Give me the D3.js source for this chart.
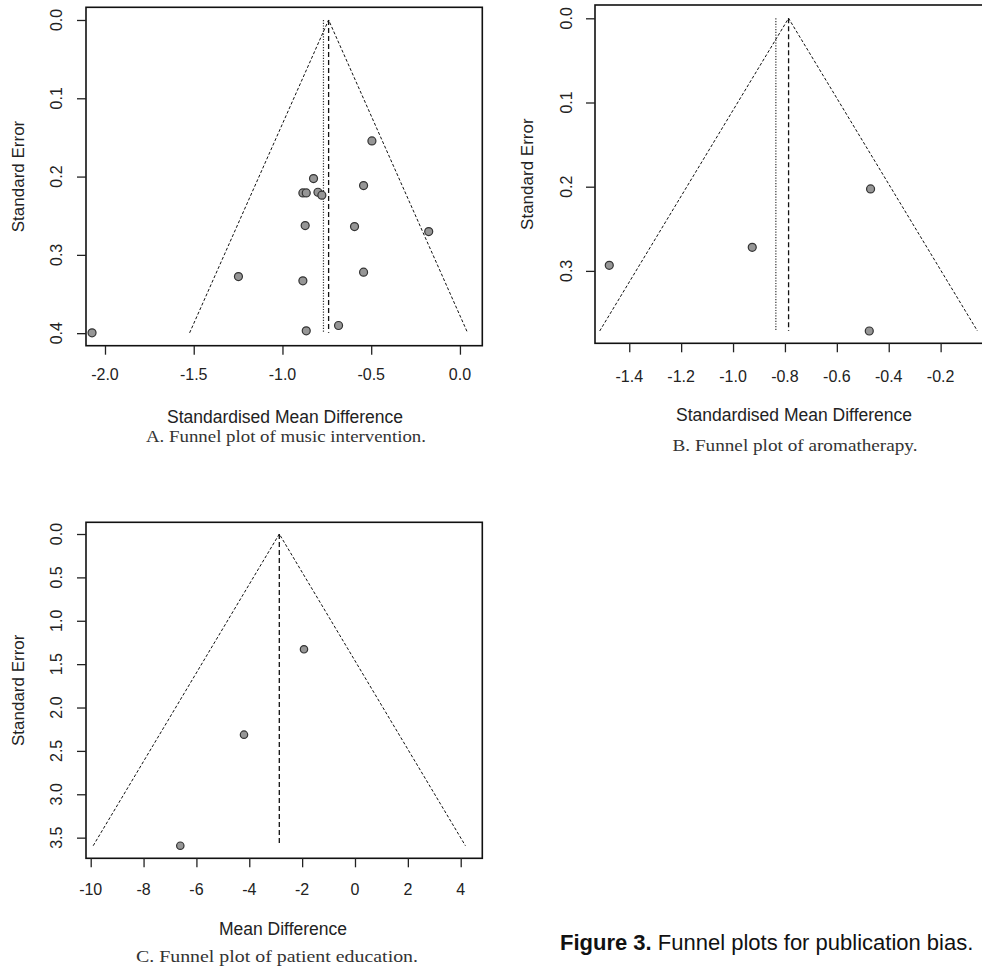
<!DOCTYPE html>
<html>
<head>
<meta charset="utf-8">
<script src="https://cdn.jsdelivr.net/npm/d3@7"></script>
<style>
  body { margin: 0; background: #fff; }
  svg { display: block; font-family: "Liberation Sans", Arial, sans-serif; }
</style>
</head>
<body>
<svg id="fig" width="982" height="969"></svg>
<script>
// A. music intervention (SMD vs standard error)
var smdA = [-0.496, -0.825, -0.543, -0.885, -0.866, -0.800, -0.778, -0.872, -0.594, -0.176, -1.248, -0.885, -0.543, -0.684, -0.866, -2.073];
var seA  = [0.1545, 0.2026, 0.2115, 0.2209, 0.2209, 0.2200, 0.2238, 0.2626, 0.2638, 0.2702, 0.3277, 0.3332, 0.3221, 0.3902, 0.3970, 0.3996];
var fixedA = -0.740, randomA = -0.769;
var xTicksA = [-2.0, -1.5, -1.0, -0.5, 0.0];
var yTicksA = [0.0, 0.1, 0.2, 0.3, 0.4];

// B. aromatherapy
var smdB = [-0.470, -0.926, -1.477, -0.475];
var seB  = [0.2027, 0.2720, 0.2934, 0.3714];
var fixedB = -0.786, randomB = -0.835;
var xTicksB = [-1.4, -1.2, -1.0, -0.8, -0.6, -0.4, -0.2];
var yTicksB = [0.0, 0.1, 0.2, 0.3];

// C. patient education (MD)
var mdC = [-1.93, -4.20, -6.61];
var seC = [1.329, 2.313, 3.593];
var fixedC = -2.864, randomC = null;
var xTicksC = [-10, -8, -6, -4, -2, 0, 2, 4];
var yTicksC = [0.0, 0.5, 1.0, 1.5, 2.0, 2.5, 3.0, 3.5];

var svg = d3.select('#fig');

var panels = [
    {
        est: smdA, se: seA, fixed: fixedA, random: randomA,
        xTicks: xTicksA, yTicks: yTicksA, xFmt: d3.format('.1f'), yFmt: d3.format('.1f'),
        xlim: [-2.107, 0.126], ylim: [-0.0162, 0.416],
        box: {x0: 86, x1: 482.3, y0: 7.3, y1: 345.7},
        xLabelY: 380, yLabelX: 61.5, xTitleX: 285, xTitleY: 423, yTitleX: 24,
        xTitle: 'Standardised Mean Difference',
        caption: 'A. Funnel plot of music intervention.', capX: 286, capY: 442, capW: 280,
        r: 4
    },
    {
        est: smdB, se: seB, fixed: fixedB, random: randomB,
        xTicks: xTicksB, yTicks: yTicksB, xFmt: d3.format('.1f'), yFmt: d3.format('.1f'),
        xlim: [-1.532, -0.029], ylim: [-0.0158, 0.386],
        box: {x0: 595, x1: 985, y0: 5, y1: 343.3},
        xLabelY: 382, yLabelX: 571.5, xTitleX: 794, xTitleY: 421, yTitleX: 533,
        xTitle: 'Standardised Mean Difference',
        caption: 'B. Funnel plot of aromatherapy.', capX: 795, capY: 451, capW: 245,
        r: 4
    },
    {
        est: mdC, se: seC, fixed: fixedC, random: randomC,
        xTicks: xTicksC, yTicks: yTicksC, xFmt: d3.format('d'), yFmt: d3.format('.1f'),
        xlim: [-10.178, 4.817], ylim: [-0.135, 3.738],
        box: {x0: 86, x1: 482.3, y0: 522.3, y1: 858.3},
        xLabelY: 895, yLabelX: 61.5, xTitleX: 283, xTitleY: 935, yTitleX: 24,
        xTitle: 'Mean Difference',
        caption: 'C. Funnel plot of patient education.', capX: 277, capY: 962, capW: 282,
        r: 3.7
    }
];

panels.forEach(drawPanel);

function drawPanel(p) {
    var b = p.box;
    var x = d3.scaleLinear().domain(p.xlim).range([b.x0, b.x1]);
    var y = d3.scaleLinear().domain(p.ylim).range([b.y0, b.y1]);
    var g = svg.append('g');

    // funnel: pseudo 95% limits around the fixed effect estimate
    var seMax = d3.max(p.se);
    var funnel = [
        [p.fixed - 1.96 * seMax, seMax],
        [p.fixed, 0],
        [p.fixed + 1.96 * seMax, seMax]
    ];
    g.append('path')
        .attr('d', d3.line().x(function (d) { return x(d[0]); }).y(function (d) { return y(d[1]); })(funnel))
        .attr('fill', 'none')
        .attr('stroke', '#111')
        .attr('stroke-width', 1)
        .attr('stroke-dasharray', '3,2');

    // fixed effect (dashed) and random effects (dotted)
    g.append('line')
        .attr('x1', x(p.fixed)).attr('x2', x(p.fixed))
        .attr('y1', y(0)).attr('y2', y(seMax))
        .attr('stroke', '#111')
        .attr('stroke-width', 1.3)
        .attr('stroke-dasharray', '5,3');
    if (p.random !== null) {
        g.append('line')
            .attr('x1', x(p.random)).attr('x2', x(p.random))
            .attr('y1', y(0)).attr('y2', y(seMax))
            .attr('stroke', '#333')
            .attr('stroke-width', 1.2)
            .attr('stroke-dasharray', '1.2,1.5');
    }

    // studies
    g.selectAll('circle')
        .data(p.est.map(function (e, i) { return [e, p.se[i]]; }))
        .enter()
        .append('circle')
        .attr('cx', function (d) { return x(d[0]); })
        .attr('cy', function (d) { return y(d[1]); })
        .attr('r', p.r)
        .attr('fill', '#969696')
        .attr('stroke', '#333')
        .attr('stroke-width', 1.2);

    // box
    g.append('rect')
        .attr('x', b.x0).attr('y', b.y0)
        .attr('width', b.x1 - b.x0).attr('height', b.y1 - b.y0)
        .attr('fill', 'none')
        .attr('stroke', '#111')
        .attr('stroke-width', 1.6);

    // x axis
    var xa = g.append('g').attr('transform', 'translate(0,' + b.y1 + ')')
        .call(d3.axisBottom(x).tickValues(p.xTicks).tickSize(9).tickSizeOuter(0).tickFormat(''));
    xa.select('.domain').remove();
    xa.selectAll('line').attr('stroke', '#222').attr('stroke-width', 1.3);

    g.selectAll('.xlab')
        .data(p.xTicks)
        .enter()
        .append('text')
        .attr('x', function (d) { return x(d); })
        .attr('y', p.xLabelY)
        .attr('text-anchor', 'middle')
        .attr('font-size', 16)
        .attr('fill', '#222')
        .text(function (d) { return p.xFmt(d).replace('\u2212', '-'); });

    // y axis (reversed, se = 0 on top)
    var ya = g.append('g').attr('transform', 'translate(' + b.x0 + ',0)')
        .call(d3.axisLeft(y).tickValues(p.yTicks).tickSize(9).tickSizeOuter(0).tickFormat(''));
    ya.select('.domain').remove();
    ya.selectAll('line').attr('stroke', '#222').attr('stroke-width', 1.3);

    g.selectAll('.ylab')
        .data(p.yTicks)
        .enter()
        .append('text')
        .attr('transform', function (d) { return 'translate(' + p.yLabelX + ',' + y(d) + ') rotate(-90)'; })
        .attr('text-anchor', 'middle')
        .attr('font-size', 16)
        .attr('fill', '#222')
        .text(function (d) { return p.yFmt(d); });

    // titles
    g.append('text')
        .attr('x', p.xTitleX)
        .attr('y', p.xTitleY)
        .attr('text-anchor', 'middle')
        .attr('font-size', 17.5)
        .attr('fill', '#222')
        .text(p.xTitle);

    g.append('text')
        .attr('transform', 'translate(' + p.yTitleX + ',' + (b.y0 + b.y1) / 2 + ') rotate(-90)')
        .attr('text-anchor', 'middle')
        .attr('font-size', 17)
        .attr('fill', '#222')
        .text('Standard Error');

    g.append('text')
        .attr('x', p.capX - p.capW / 2)
        .attr('y', p.capY)
        .attr('font-family', '"Liberation Serif", "Times New Roman", serif')
        .attr('font-size', 17)
        .attr('fill', '#333')
        .attr('textLength', p.capW)
        .attr('lengthAdjust', 'spacingAndGlyphs')
        .text(p.caption);
}

// figure caption
var cap = svg.append('text')
    .attr('x', 560)
    .attr('y', 950)
    .attr('font-size', 22)
    .attr('fill', '#111');
cap.append('tspan').attr('font-weight', 'bold').text('Figure 3.');
cap.append('tspan').text(' Funnel plots for publication bias.');
</script>
</body>
</html>
